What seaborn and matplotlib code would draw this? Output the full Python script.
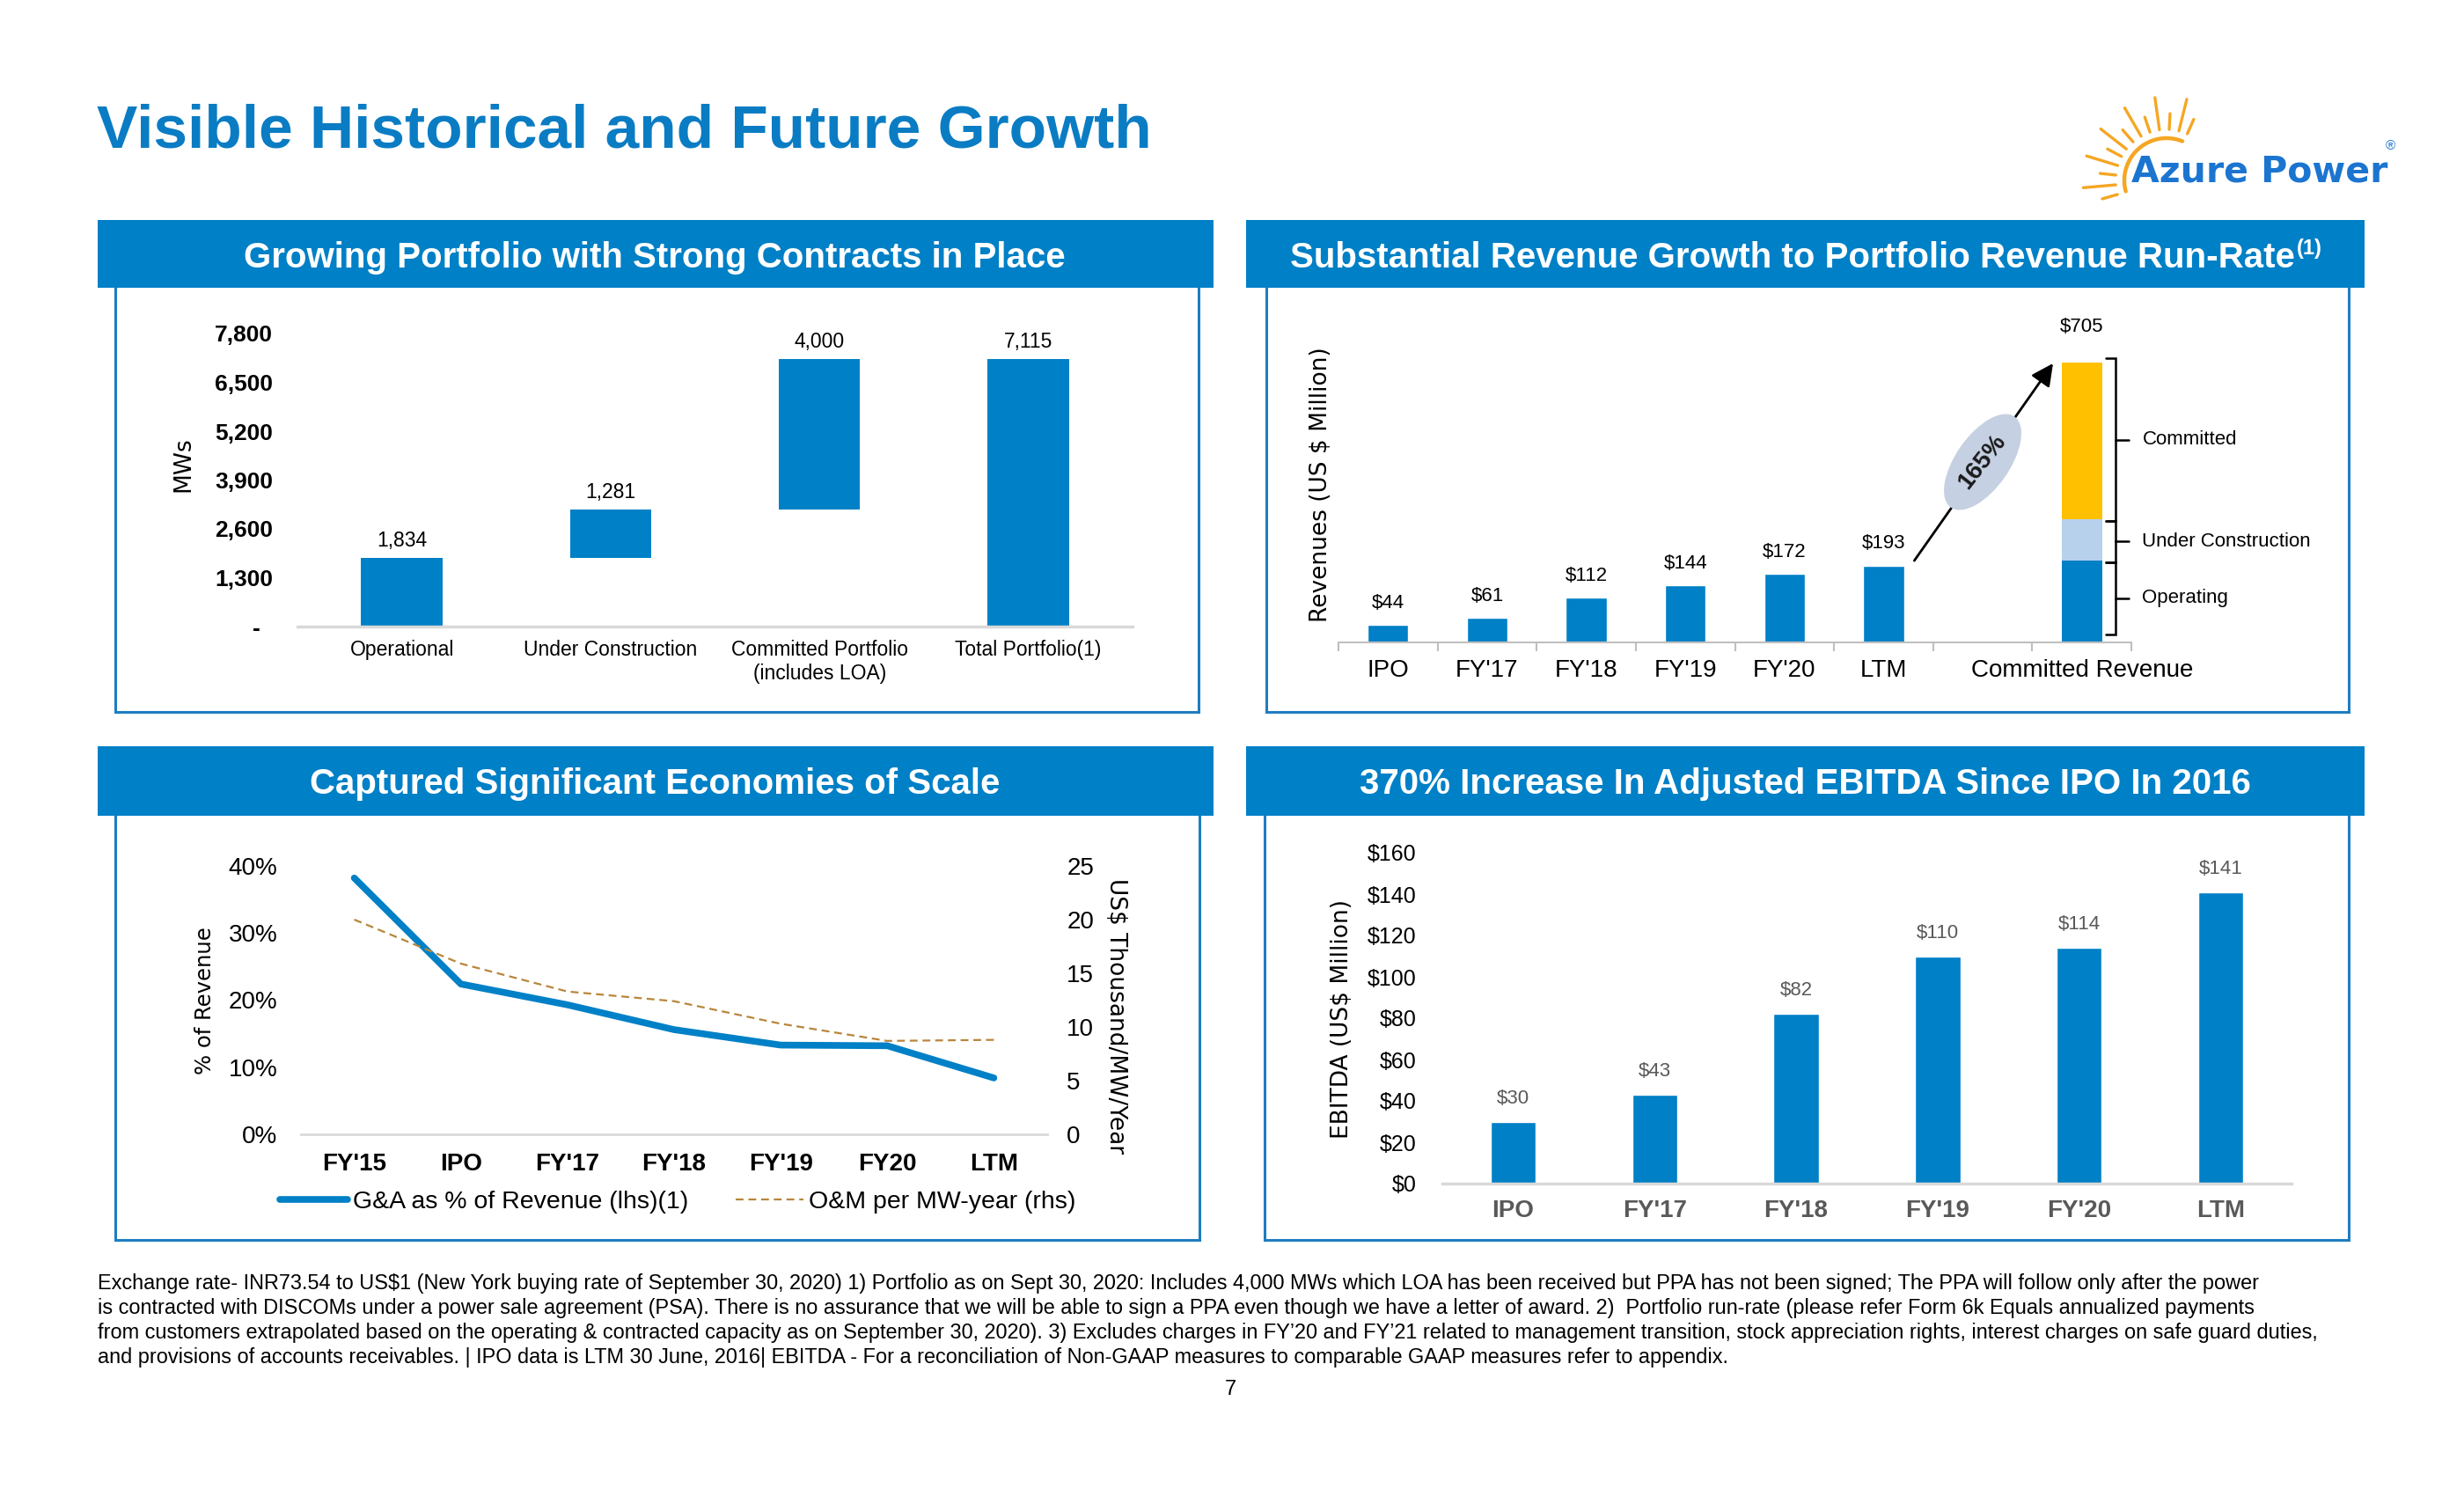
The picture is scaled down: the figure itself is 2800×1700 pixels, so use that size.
import numpy as np
import pandas as pd
import matplotlib
matplotlib.use("Agg")
import matplotlib.pyplot as plt
import seaborn as sns
from matplotlib.patches import Rectangle, Ellipse
from matplotlib.lines import Line2D

# ---------------- data ----------------
pf_cats = ["Operational", "Under Construction", "Committed Portfolio\n(includes LOA)", "Total Portfolio(1)"]
pf_values = [1834, 1281, 4000, 7115]
pf_ticks = [0, 1300, 2600, 3900, 5200, 6500, 7800]
pf_ticklabels = ["-  ", "1,300", "2,600", "3,900", "5,200", "6,500", "7,800"]

rev_cats = ["IPO", "FY'17", "FY'18", "FY'19", "FY'20", "LTM"]
rev_values = [44, 61, 112, 144, 172, 193]
committed_cat = "Committed Revenue"
seg_names = ["Operating", "Under Construction", "Committed"]
seg_values = [206, 104, 395]
growth_label = "165%"

econ_cats = ["FY'15", "IPO", "FY'17", "FY'18", "FY'19", "FY20", "LTM"]
ga_pct = [38.2, 22.4, 19.3, 15.6, 13.3, 13.2, 8.4]
om_cost = [20.0, 15.9, 13.3, 12.4, 10.3, 8.7, 8.8]
ga_ticks = [0, 10, 20, 30, 40]
om_ticks = [0, 5, 10, 15, 20, 25]

ebitda_cats = ["IPO", "FY'17", "FY'18", "FY'19", "FY'20", "LTM"]
ebitda_values = [30, 43, 82, 110, 114, 141]
ebitda_ticks = [0, 20, 40, 60, 80, 100, 120, 140, 160]

footer_lines = [
    "Exchange rate- INR73.54 to US$1 (New York buying rate of September 30, 2020) 1) Portfolio as on Sept 30, 2020: Includes 4,000 MWs which LOA has been received but PPA has not been signed; The PPA will follow only after the power",
    "is contracted with DISCOMs under a power sale agreement (PSA). There is no assurance that we will be able to sign a PPA even though we have a letter of award. 2)  Portfolio run-rate (please refer Form 6k Equals annualized payments",
    "from customers extrapolated based on the operating & contracted capacity as on September 30, 2020). 3) Excludes charges in FY\u201920 and FY\u201921 related to management transition, stock appreciation rights, interest charges on safe guard duties,",
    "and provisions of accounts receivables. | IPO data is LTM 30 June, 2016| EBITDA - For a reconciliation of Non-GAAP measures to comparable GAAP measures refer to appendix.",
]

# ---------------- style ----------------
BLUE = "#0080C6"
LIGHT_BLUE = "#B7D1EC"
YELLOW = "#FFC000"
GOLD = "#B8863B"
GRAY_TXT = "#595959"
BASE_GRAY = "#D9D9D9"
ELLIPSE = "#C5D0E2"
SUN = "#F5A623"

sns.set_theme(style="white")
plt.rcParams['font.family'] = ['Liberation Sans', 'DejaVu Sans']
for k in ['text.color', 'axes.labelcolor', 'xtick.color', 'ytick.color']:
    plt.rcParams[k] = 'black'

W, H = 2800, 1700
fig = plt.figure(figsize=(28, 17), dpi=100)
fig.patch.set_facecolor('white')


def rect(x0, y0, x1, y1):
    return [x0 / W, 1 - y1 / H, (x1 - x0) / W, (y1 - y0) / H]


bg = fig.add_axes([0, 0, 1, 1], zorder=-1)
bg.set_xlim(0, W)
bg.set_ylim(H, 0)
bg.axis('off')

# panel boxes and headers
borders = [(131, 320, 1362, 809), (1439, 320, 2669, 809), (131, 920, 1363, 1409), (1437, 920, 2669, 1409)]
for x0, y0, x1, y1 in borders:
    bg.add_patch(Rectangle((x0, y0), x1 - x0, y1 - y0, fill=False, ec="#1F7DC1", lw=2.2))
headers = [(111, 250, 1379, 327), (1416, 250, 2687, 327), (111, 848, 1379, 927), (1416, 848, 2687, 927)]
for x0, y0, x1, y1 in headers:
    bg.add_patch(Rectangle((x0, y0), x1 - x0, y1 - y0, color=BLUE, lw=0))

HFS = 29
bg.text(744, 304, "Growing Portfolio with Strong Contracts in Place", ha='center', va='baseline',
        fontsize=HFS, fontweight='bold', color='white')
bg.text(744, 902, "Captured Significant Economies of Scale", ha='center', va='baseline',
        fontsize=HFS, fontweight='bold', color='white')
bg.text(2051, 902, "370% Increase In Adjusted EBITDA Since IPO In 2016", ha='center', va='baseline',
        fontsize=HFS, fontweight='bold', color='white')
# header with superscript
renderer = fig.canvas.get_renderer()
t_main = bg.text(0, 304, "Substantial Revenue Growth to Portfolio Revenue Run-Rate", ha='left', va='baseline',
                 fontsize=HFS, fontweight='bold', color='white')
t_sup = bg.text(0, 289, "(1)", ha='left', va='baseline', fontsize=17, fontweight='bold', color='white')
w1 = t_main.get_window_extent(renderer).width
w2 = t_sup.get_window_extent(renderer).width
x_start = 2051 - (w1 + w2) / 2
t_main.set_x(x_start)
t_sup.set_x(x_start + w1 + 2)

# title
bg.text(110, 167, "Visible Historical and Future Growth", fontsize=50, fontweight='bold',
        color="#0A7CC3", va='baseline', ha='left')

# footer
for i, line in enumerate(footer_lines):
    bg.text(111, 1459 + i * 27.8, line, fontsize=16.9, va='center', ha='left', color='black')
bg.text(1398, 1579, "7", fontsize=17, ha='center', va='center')

# axis labels drawn in page coordinates
bg.text(208, 528, "MWs", rotation=90, ha='center', va='center', fontsize=19, family='DejaVu Sans')
bg.text(1501, 551, "Revenues (US $ Million)", rotation=90, ha='center', va='center', fontsize=19,
        family='DejaVu Sans')
bg.text(233, 1137, "% of Revenue", rotation=90, ha='center', va='center', fontsize=17.5, family='DejaVu Sans')
bg.text(1268, 1155, "US$ Thousand/MW/Year", rotation=-90, ha='center', va='center', fontsize=19,
        family='DejaVu Sans')
bg.text(1525, 1158, "EBITDA (US$ Million)", rotation=90, ha='center', va='center', fontsize=19,
        family='DejaVu Sans')

# ---------------- panel 1: portfolio waterfall ----------------
ax1 = fig.add_axes(rect(338, 379, 1287, 712))
bases = np.concatenate([[0], np.cumsum(pf_values[:2])])
x1 = np.arange(3)
ax1.bar(x1, pf_values[:3], bottom=bases, width=0.39, color=BLUE, lw=0)
ax1.bar([3] * 3, pf_values[:3], bottom=bases, width=0.39, color=BLUE, lw=0)
tops = list(bases + np.array(pf_values[:3])) + [pf_values[3]]
for i, (top, v) in enumerate(zip(tops, pf_values)):
    ax1.annotate(f"{v:,}", xy=(i, top), xytext=(0, 14), textcoords='offset points', ha='center',
                 va='center', fontsize=16.5, annotation_clip=False)
ax1.set_xlim(-0.5, 3.5)
ax1.set_ylim(0, 7800)
ax1.set_yticks(pf_ticks, pf_ticklabels, fontsize=19, fontweight='bold')
ax1.set_xticks(range(4), pf_cats, fontsize=16.5)
ax1.tick_params(axis='both', length=0)
ax1.tick_params(axis='y', pad=20)
ax1.tick_params(axis='x', pad=11)
for s in ['left', 'top', 'right']:
    ax1.spines[s].set_visible(False)
ax1.spines['bottom'].set_color(BASE_GRAY)
ax1.spines['bottom'].set_linewidth(2.5)
ax1.patch.set_alpha(0)

# ---------------- panel 2: revenue ----------------
ax2 = fig.add_axes(rect(1521, 412, 2422, 730))
df_rev = pd.DataFrame({"period": rev_cats, "revenue": rev_values})
order = rev_cats + [" ", committed_cat]
sns.barplot(data=df_rev, x="period", y="revenue", order=order, color=BLUE, saturation=1,
            width=0.41, errorbar=None, ax=ax2)
cpos = len(order) - 1
seg_bottoms = np.concatenate([[0], np.cumsum(seg_values[:-1])])
ax2.bar([cpos] * 3, seg_values, bottom=seg_bottoms, width=0.41, color=[BLUE, LIGHT_BLUE, YELLOW], lw=0)
total = int(np.sum(seg_values))
for i, v in enumerate(rev_values):
    ax2.annotate(f"${v}", xy=(i, v), xytext=(0, 18), textcoords='offset points', ha='center',
                 va='center', fontsize=16, annotation_clip=False)
ax2.annotate(f"${total}", xy=(cpos, total), xytext=(0, 29), textcoords='offset points', ha='center',
             va='center', fontsize=16, annotation_clip=False)
ax2.set_xlim(-0.5, len(order) - 0.5)
ax2.set_ylim(0, total)
ax2.set_yticks([])
ax2.set_xticks(range(len(order)), rev_cats + ["", committed_cat], fontsize=20)
ax2.set_xticks(np.arange(-0.5, len(order), 1), minor=True)
ax2.tick_params(axis='x', which='major', length=0, pad=14)
ax2.tick_params(axis='x', which='minor', length=7, width=1.5, color='#BFBFBF', bottom=True, direction='out')
ax2.set_xlabel("")
ax2.set_ylabel("")
for s in ['left', 'top', 'right']:
    ax2.spines[s].set_visible(False)
ax2.spines['bottom'].set_color('#BFBFBF')
ax2.spines['bottom'].set_linewidth(1.5)
ax2.patch.set_alpha(0)

# brackets
xv, xin, xt, xl = cpos + 0.34, cpos + 0.24, cpos + 0.47, cpos + 0.61
seg_tops = seg_bottoms + np.array(seg_values)
for k, (lo, hi, name) in enumerate(zip(seg_bottoms, seg_tops, seg_names)):
    blo = max(lo - 4, 20)
    bhi = hi + 11 if k == len(seg_names) - 1 else hi - 4
    ax2.plot([xin, xv, xv, xin], [bhi, bhi, blo, blo], color='black', lw=1.8, clip_on=False,
             solid_joinstyle='miter')
    mid = (blo + bhi) / 2
    ax2.plot([xv, xt], [mid, mid], color='black', lw=1.8, clip_on=False)
    ax2.text(xl, mid, name, ha='left', va='center', fontsize=16, clip_on=False)

# growth arrow
ax2.annotate("", xy=(cpos - 0.29, total - 2), xytext=(len(rev_cats) - 1 + 0.31, rev_values[-1] + 13),
             arrowprops=dict(arrowstyle='-|>', color='black', lw=2, mutation_scale=38, shrinkA=0, shrinkB=0),
             annotation_clip=False)

# ---------------- panel 3: economies of scale ----------------
ax3 = fig.add_axes(rect(342, 984, 1190, 1289))
xs = np.arange(len(econ_cats))
sns.lineplot(x=xs, y=ga_pct, ax=ax3, color=BLUE, linewidth=5.5, solid_capstyle='round')
ax3.set_xlim(-0.5, len(econ_cats) - 0.5)
ax3.set_ylim(0, 40)
ax3.set_yticks(ga_ticks, [f"{v}%" for v in ga_ticks], fontsize=20)
ax3.set_xticks(xs, econ_cats, fontsize=20, fontweight='bold')
ax3.tick_params(axis='both', length=0)
ax3.tick_params(axis='y', pad=19)
ax3.tick_params(axis='x', pad=15)
for s in ['left', 'top', 'right']:
    ax3.spines[s].set_visible(False)
ax3.spines['bottom'].set_color(BASE_GRAY)
ax3.spines['bottom'].set_linewidth(2)
ax3.patch.set_alpha(0)

ax3b = ax3.twinx()
sns.lineplot(x=xs, y=om_cost, ax=ax3b, color=GOLD, linewidth=1.6)
for ln in ax3b.get_lines():
    ln.set_dashes((4, 2.5))
ax3b.set_ylim(0, 25)
ax3b.set_yticks(om_ticks, [str(v) for v in om_ticks], fontsize=20)
ax3b.tick_params(axis='y', length=0, pad=16)
for s in ax3b.spines.values():
    s.set_visible(False)
ax3.set_xlabel("")
ax3.set_ylabel("")
ax3b.set_ylabel("")

handles = [Line2D([], [], color=BLUE, lw=5.5, solid_capstyle='round'),
           Line2D([], [], color=GOLD, lw=1.6, dashes=(4, 2.5))]
fig.legend(handles, ["G&A as % of Revenue (lhs)(1)", "O&M per MW-year (rhs)"], loc='center',
           bbox_to_anchor=(770 / W, 1 - 1366 / H), ncol=2, frameon=False, fontsize=20.5,
           handlelength=2.7, handletextpad=0.2, columnspacing=1.9)

# ---------------- panel 4: EBITDA ----------------
ax4 = fig.add_axes(rect(1639, 969, 2604, 1345))
df_e = pd.DataFrame({"period": ebitda_cats, "ebitda": ebitda_values})
sns.barplot(data=df_e, x="period", y="ebitda", order=ebitda_cats, color=BLUE, saturation=1,
            width=0.32, errorbar=None, ax=ax4)
for i, v in enumerate(ebitda_values):
    ax4.annotate(f"${v}", xy=(i, v), xytext=(0, 19), textcoords='offset points', ha='center',
                 va='center', fontsize=16, color=GRAY_TXT, annotation_clip=False)
ax4.set_xlim(-0.5, len(ebitda_cats) - 0.5)
ax4.set_ylim(0, 160)
ax4.set_yticks(ebitda_ticks, [f"${v}" for v in ebitda_ticks], fontsize=18)
ax4.set_xticks(range(len(ebitda_cats)), ebitda_cats, fontsize=20, fontweight='bold', color=GRAY_TXT)
ax4.tick_params(axis='both', length=0)
ax4.tick_params(axis='y', pad=21)
ax4.tick_params(axis='x', pad=13)
ax4.set_xlabel("")
ax4.set_ylabel("")
for s in ['left', 'top', 'right']:
    ax4.spines[s].set_visible(False)
ax4.spines['bottom'].set_color(BASE_GRAY)
ax4.spines['bottom'].set_linewidth(2.5)
ax4.patch.set_alpha(0)

# ---------------- foreground overlay: ellipse + logo ----------------
fg = fig.add_axes([0, 0, 1, 1], zorder=10)
fg.set_xlim(0, W)
fg.set_ylim(H, 0)
fg.axis('off')
fg.add_patch(Ellipse((2253, 525), 126, 61, angle=-55, color=ELLIPSE, lw=0))
fg.text(2253, 525, growth_label, rotation=52, ha='center', va='center', fontsize=20,
        fontweight='bold', color='#1a1a1a', rotation_mode='anchor')

# logo
cx, cy = 2462, 205
th = np.radians(np.linspace(68, 195, 60))
fg.plot(cx + 48 * np.cos(th), cy - 48 * np.sin(th), color=SUN, lw=3.2, solid_capstyle='round')
long_a = [76, 98, 120, 142, 163, 185]
short_a = [87, 109, 131, 152, 174, 196, 66]
for a, r1 in [(a, 95) for a in long_a] + [(a, 76) for a in short_a]:
    t = np.radians(a)
    fg.plot([cx + 58 * np.cos(t), cx + r1 * np.cos(t)], [cy - 58 * np.sin(t), cy - r1 * np.sin(t)],
            color=SUN, lw=2.4, solid_capstyle='round')
fg.text(2422, 206, "Azure Power", fontsize=29.5, fontweight='bold', family='DejaVu Sans',
        color="#1B75D0", va='baseline', ha='left')
fg.text(2716, 166, "\u00ae", fontsize=11, color="#1B75D0", ha='center', va='center')

fig.savefig("out.png", dpi=100, facecolor='white')
